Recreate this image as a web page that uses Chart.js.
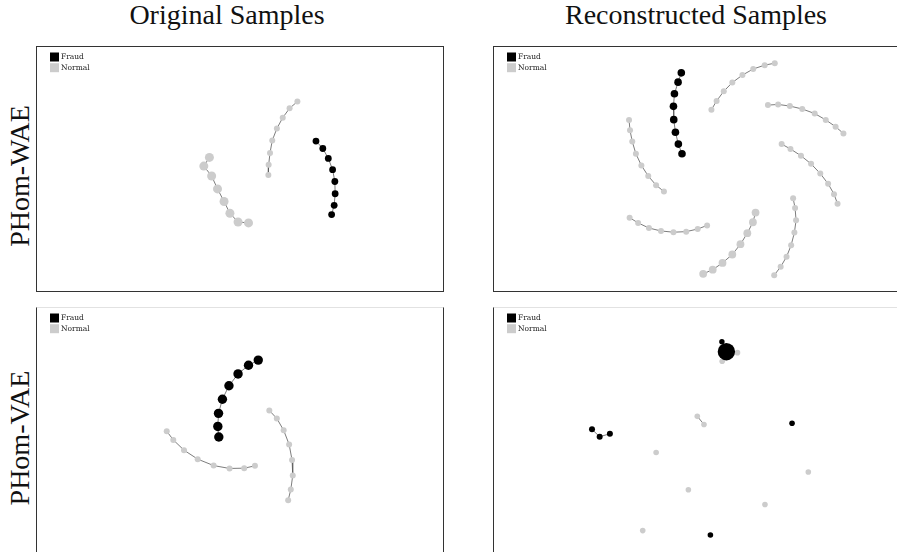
<!DOCTYPE html>
<html>
<head>
<meta charset="utf-8">
<script src="https://cdn.jsdelivr.net/npm/chart.js@4.4.0/dist/chart.umd.min.js"></script>
<style>
  body { margin: 0; width: 897px; height: 552px; overflow: hidden; background: #fff; position: relative; }
  .title { position: absolute; font-family: "Liberation Serif", serif; font-size: 28px; line-height: 28px; color: #111; text-align: center; white-space: nowrap; }
  .row { position: absolute; font-family: "Liberation Serif", serif; font-size: 28px; line-height: 28px; color: #111; white-space: nowrap; transform: translate(-50%, -50%) rotate(-90deg); }
  .panel { position: absolute; width: 406px; height: 244px; border: 1px solid #333; }
  .panel canvas { display: block; }
  .low { border-top-color: #e2e2e2; }
</style>
</head>
<body>
<div class="title" style="left:77px; width:300px; top:1px;">Original Samples</div>
<div class="title" style="left:546px; width:300px; top:1px;">Reconstructed Samples</div>
<div class="row" style="left:20px; top:176px;">PHom-WAE</div>
<div class="row" style="left:20px; top:438px;">PHom-VAE</div>

<div class="panel" style="left:36px; top:46px;"><canvas id="c1" width="406" height="244"></canvas></div>
<div class="panel" style="left:493px; top:46px;"><canvas id="c2" width="406" height="244"></canvas></div>
<div class="panel low" style="left:36px; top:307px;"><canvas id="c3" width="406" height="244"></canvas></div>
<div class="panel low" style="left:493px; top:307px;"><canvas id="c4" width="406" height="244"></canvas></div>

<script>
// latent coordinates, [x, y]
// PHom-WAE, original
const wOrigFraud = [[28.07,15.1],[28.77,14.33],[29.33,13.3],[29.77,12.13],[30.0,10.9],[30.03,9.63],[29.93,8.43],[29.67,7.47]];
const wOrigNormA = [[17.17,13.4],[16.6,12.5],[17.4,11.47],[18.0,10.13],[18.67,8.83],[19.27,7.6],[20.1,6.7],[21.17,6.6]];
const wOrigNormB = [[26.17,19.2],[25.37,18.5],[24.67,17.53],[24.07,16.4],[23.6,15.17],[23.37,13.87],[23.23,12.63],[23.2,11.57]];

// PHom-WAE, reconstructed
const wRecFraud = [[18.7,22.13],[18.37,21.17],[18.0,19.97],[17.9,18.67],[17.93,17.3],[18.1,16.0],[18.4,14.77],[18.77,13.77]];
const wRecNorm1 = [[21.77,18.33],[22.3,19.23],[23.03,20.23],[23.9,21.13],[24.93,21.9],[26.03,22.53],[27.2,22.93],[28.23,23.13]];
const wRecNorm2 = [[27.53,18.8],[28.57,18.87],[29.77,18.7],[31.03,18.4],[32.3,17.93],[33.43,17.27],[34.43,16.57],[35.23,15.87]];
const wRecNorm3 = [[28.93,14.77],[29.83,14.27],[30.9,13.57],[31.93,12.73],[32.87,11.73],[33.67,10.67],[34.27,9.6],[34.63,8.6]];
const wRecNorm4 = [[30.1,9.17],[30.3,8.17],[30.4,6.9],[30.23,5.63],[29.9,4.33],[29.43,3.13],[28.83,2.1],[28.17,1.23]];
const wRecNorm5 = [[26.27,7.7],[26.0,6.7],[25.43,5.57],[24.73,4.43],[23.9,3.37],[22.9,2.5],[21.9,1.8],[20.93,1.37]];
const wRecNorm6 = [[13.43,7.17],[14.3,6.63],[15.4,6.1],[16.63,5.8],[17.9,5.67],[19.2,5.73],[20.37,6.0],[21.33,6.37]];
const wRecNorm7 = [[13.37,17.27],[13.47,16.2],[13.7,15.03],[14.07,13.77],[14.63,12.57],[15.33,11.47],[16.13,10.53],[16.93,9.87]];

// PHom-VAE, original
const vOrigFraud = [[22.17,19.47],[21.17,18.93],[20.1,18.03],[19.17,16.8],[18.5,15.4],[18.1,13.93],[18.03,12.57],[18.13,11.47]];
const vOrigNorm1 = [[12.8,12.07],[13.47,11.17],[14.57,10.1],[15.97,9.17],[17.6,8.5],[19.23,8.2],[20.73,8.23],[21.83,8.47]];
const vOrigNorm2 = [[23.3,14.23],[24.07,13.4],[24.77,12.17],[25.33,10.7],[25.63,9.07],[25.7,7.47],[25.5,6.0],[25.23,4.9]];

// PHom-VAE, reconstructed (arcs collapse to a few points)
const vRecFraudHub = [[23.37,20.63]];
const vRecFraudTop = [[22.9,21.7]];
const vRecFraudChain = [[9.33,12.27],[10.13,11.47],[11.2,11.8]];
const vRecFraudSingles = [[30.23,12.93],[21.7,0.9]];
const vRecNormPair = [[20.33,13.67],[21.03,12.8]];
const vRecNormSingles = [[24.53,20.53],[22.93,19.6],[16.03,9.77],[31.93,7.67],[19.4,5.77],[27.4,4.17],[14.63,1.37]];

const legendLabels = ['Fraud', 'Normal'];
const FRAUD = '#000000';
const NORMAL = '#cccccc';

function arc(points, color, r, line) {
  return {
    data: points.map(p => ({x: p[0], y: p[1]})),
    showLine: line !== false,
    borderColor: '#5a5a5a',
    borderWidth: 0.8,
    pointRadius: r,
    pointBackgroundColor: color,
    pointBorderWidth: 0,
    pointHoverRadius: r
  };
}

const legendBox = {
  id: 'legendBox',
  afterDraw(chart) {
    const ctx = chart.ctx;
    const colors = [FRAUD, NORMAL];
    ctx.save();
    ctx.font = '7.5px "DejaVu Serif"';
    ctx.textBaseline = 'middle';
    legendLabels.forEach((t, i) => {
      ctx.fillStyle = colors[i];
      ctx.fillRect(13, 5.5 + i * 10.7, 9, 9);
      ctx.fillStyle = '#222';
      ctx.fillText(t, 24, 10 + i * 10.7);
    });
    ctx.restore();
  }
};

function panel(id, datasets) {
  new Chart(document.getElementById(id), {
    type: 'scatter',
    data: {datasets},
    options: {
      responsive: false,
      animation: false,
      events: [],
      layout: {padding: 0},
      plugins: {legend: {display: false}, tooltip: {enabled: false}},
      scales: {
        x: {display: false, min: 0, max: 40.6},
        y: {display: false, min: 0, max: 24.4}
      }
    },
    plugins: [legendBox]
  });
}

panel('c1', [
  arc(wOrigFraud, FRAUD, 3.4),
  arc(wOrigNormA, NORMAL, 4.5),
  arc(wOrigNormB, NORMAL, 3)
]);

panel('c2', [
  arc(wRecFraud, FRAUD, 3.8),
  arc(wRecNorm1, NORMAL, 3),
  arc(wRecNorm2, NORMAL, 3),
  arc(wRecNorm3, NORMAL, 3),
  arc(wRecNorm4, NORMAL, 3),
  arc(wRecNorm5, NORMAL, 3.9),
  arc(wRecNorm6, NORMAL, 3),
  arc(wRecNorm7, NORMAL, 3)
]);

panel('c3', [
  arc(vOrigFraud, FRAUD, 4.7),
  arc(vOrigNorm1, NORMAL, 3),
  arc(vOrigNorm2, NORMAL, 3)
]);

panel('c4', [
  arc(vRecFraudHub, FRAUD, 8.7, false),
  arc(vRecFraudTop, FRAUD, 2.7, false),
  arc(vRecFraudChain, FRAUD, 3),
  arc(vRecFraudSingles, FRAUD, 2.8, false),
  arc(vRecNormPair, NORMAL, 2.8),
  arc(vRecNormSingles, NORMAL, 2.8, false)
]);
</script>
</body>
</html>
